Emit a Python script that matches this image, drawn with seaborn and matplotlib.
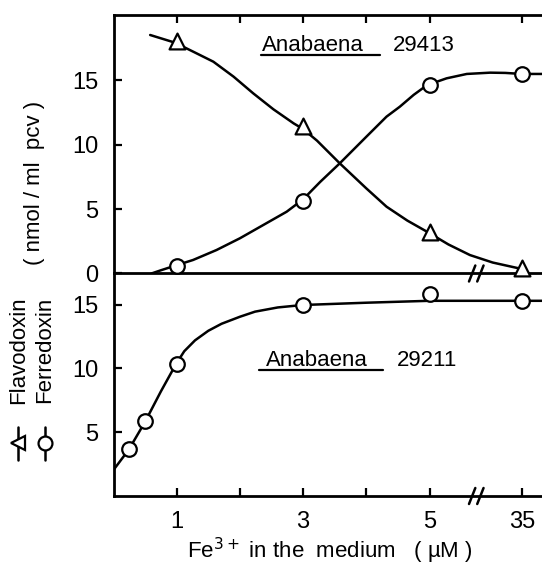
import matplotlib
matplotlib.use("Agg")
import matplotlib.pyplot as plt
from matplotlib.lines import Line2D
import seaborn as sns

# x positions are on the broken axis: 1..5 linear, then "35" placed at 6.46
tick_pos = [1, 2, 3, 4, 5, 6.46]
tick_labels = ["1", "", "3", "", "5", "35"]

# Anabaena 29413 (upper panel)
pos_29413 = [1, 3, 5, 6.46]
flavodoxin_29413 = [18.0, 11.4, 3.24, 0.4]
ferredoxin_29413 = [0.55, 5.65, 14.6, 15.45]

# hand-drawn curves
flav_curve_x = [0.58, 0.97, 1.26, 1.58, 1.9, 2.21, 2.53, 2.85, 3.0, 3.22, 3.58, 4.0, 4.32, 4.65, 4.96, 5.3, 5.64, 6.0, 6.46]
flav_curve_y = [18.49, 17.9, 17.2, 16.42, 15.26, 13.97, 12.73, 11.64, 11.2, 10.3, 8.54, 6.6, 5.18, 4.1, 3.24, 2.25, 1.43, 0.85, 0.35]
ferr_curve_x = [0.6, 0.75, 0.97, 1.26, 1.63, 2.0, 2.37, 2.74, 3.0, 3.27, 3.58, 4.0, 4.32, 4.53, 4.75, 4.96, 5.27, 5.59, 5.96, 6.2, 6.46, 6.78]
ferr_curve_y = [0.0, 0.25, 0.6, 1.05, 1.82, 2.73, 3.76, 4.79, 5.75, 7.1, 8.54, 10.6, 12.16, 12.93, 13.85, 14.6, 15.13, 15.47, 15.57, 15.55, 15.47, 15.47]

# Anabaena 29211 (lower panel)
pos_29211 = [0.245, 0.5, 1, 3, 5, 6.46]
ferredoxin_29211 = [3.66, 5.85, 10.35, 14.97, 15.83, 15.28]
ferr2_curve_x = [0.0, 0.245, 0.5, 0.75, 0.99, 1.12, 1.29, 1.5, 1.71, 2.0, 2.24, 2.6, 2.99, 4.0, 5.0, 6.0, 6.78]
ferr2_curve_y = [2.04, 3.66, 5.82, 8.2, 10.35, 11.35, 12.2, 12.95, 13.5, 14.05, 14.45, 14.78, 14.97, 15.15, 15.3, 15.3, 15.3]

sns.set_style("ticks")
plt.rcParams["font.family"] = ["Liberation Sans", "DejaVu Sans"]
plt.rcParams.update({"text.color": "black", "xtick.color": "black", "ytick.color": "black",
                     "axes.labelcolor": "black", "axes.edgecolor": "black"})
TXT = ["Liberation Sans", "DejaVu Sans"]

W, H = 542, 565
fig = plt.figure(figsize=(W / 100, H / 100), dpi=100)
left = 113.5 / W
ax_bot = fig.add_axes([left, 1 - 496 / H, 1 - left, (496 - 273.5) / H])
ax_top = fig.add_axes([left, 1 - 273.5 / H, 1 - left, (273.5 - 15) / H])

lw = 1.8
for ax in (ax_top, ax_bot):
    ax.set_xlim(0, 6.78)
    for s in ax.spines.values():
        s.set_linewidth(2.0)
        s.set_color("black")
    ax.spines["right"].set_visible(False)
    ax.patch.set_alpha(0)

# upper panel
sns.lineplot(x=flav_curve_x, y=flav_curve_y, sort=False, estimator=None, color="black", lw=lw, ax=ax_top)
sns.lineplot(x=ferr_curve_x, y=ferr_curve_y, sort=False, estimator=None, color="black", lw=lw, ax=ax_top)
sns.scatterplot(x=pos_29413, y=flavodoxin_29413, marker="^", s=130, facecolor="white",
                edgecolor="black", linewidth=1.6, zorder=3, clip_on=False, ax=ax_top)
sns.scatterplot(x=pos_29413, y=ferredoxin_29413, marker="o", s=110, facecolor="white",
                edgecolor="black", linewidth=1.6, zorder=3, clip_on=False, ax=ax_top)
ax_top.set_ylim(0, 20.04)
ax_top.set_yticks([0, 5, 10, 15])
ax_top.xaxis.set_ticks_position("top")
ax_top.set_xticks(tick_pos)
ax_top.tick_params(axis="x", direction="in", length=6, width=1.6, labeltop=False, labelbottom=False)
ax_top.tick_params(axis="y", direction="in", length=6, width=1.6, labelsize=17, pad=11)

# lower panel
sns.lineplot(x=ferr2_curve_x, y=ferr2_curve_y, sort=False, estimator=None, color="black", lw=lw, ax=ax_bot)
sns.scatterplot(x=pos_29211, y=ferredoxin_29211, marker="o", s=110, facecolor="white",
                edgecolor="black", linewidth=1.6, zorder=3, clip_on=False, ax=ax_bot)
ax_bot.set_ylim(0, 17.44)
ax_bot.set_yticks([5, 10, 15])
ax_bot.spines["top"].set_visible(False)
ax_bot.set_xticks(tick_pos)
ax_bot.set_xticklabels(tick_labels)
ax_bot.tick_params(axis="x", direction="in", length=6, width=1.6, labelsize=17, pad=11)
ax_bot.tick_params(axis="y", direction="in", length=6, width=1.6, labelsize=17, pad=11)

for ax in (ax_top, ax_bot):
    ax.set_xlabel("")
    ax.set_ylabel("")

# axis break marks
brk = 5.74
for ax, hpx in ((ax_top, 258.5), (ax_bot, 222.5)):
    dy = 8 / hpx
    for off in (-0.065, 0.065):
        ax.plot([brk + off - 0.05, brk + off + 0.05], [-dy, dy], color="black", lw=1.8,
                transform=ax.get_xaxis_transform(), clip_on=False, zorder=4)

# strain labels with underline
ax_top.text(2.345, 17.71, "Anabaena", fontsize=16, family=TXT, ha="left", va="center")
ax_top.plot([2.34, 4.22], [16.94, 16.94], color="black", lw=1.6)
ax_top.text(4.42, 17.71, "29413", fontsize=16, family=TXT, ha="left", va="center")
ax_bot.text(2.42, 10.6, "Anabaena", fontsize=16, family=TXT, ha="left", va="center")
ax_bot.plot([2.31, 4.26], [9.87, 9.87], color="black", lw=1.6)
ax_bot.text(4.49, 10.6, "29211", fontsize=16, family=TXT, ha="left", va="center")

# axis titles
fig.text(34.5 / W, 1 - 183 / H, "( nmol / ml  pcv )", rotation=90, ha="center", va="center",
         fontsize=16, family=TXT)
fig.text(330 / W, 1 - 551 / H, "Fe$^{3+}$ in the  medium   ( µM )", ha="center", va="center",
         fontsize=16, family=TXT)

# rotated legend on the left
for xpx, name, mk in ((18.3, "Flavodoxin", "<"), (45, "Ferredoxin", "o")):
    fig.text(xpx / W, 1 - 350 / H, name, rotation=90, ha="center", va="center",
             fontsize=16, family=TXT)
    fig.add_artist(Line2D([xpx / W, xpx / W], [1 - 427 / H, 1 - 460 / H], color="black", lw=1.8,
                          transform=fig.transFigure))
    fig.add_artist(Line2D([xpx / W], [1 - 443 / H], marker=mk, markersize=10, markerfacecolor="white",
                          markeredgecolor="black", markeredgewidth=1.6, transform=fig.transFigure))

fig.savefig("out.png", dpi=100, facecolor="white")
